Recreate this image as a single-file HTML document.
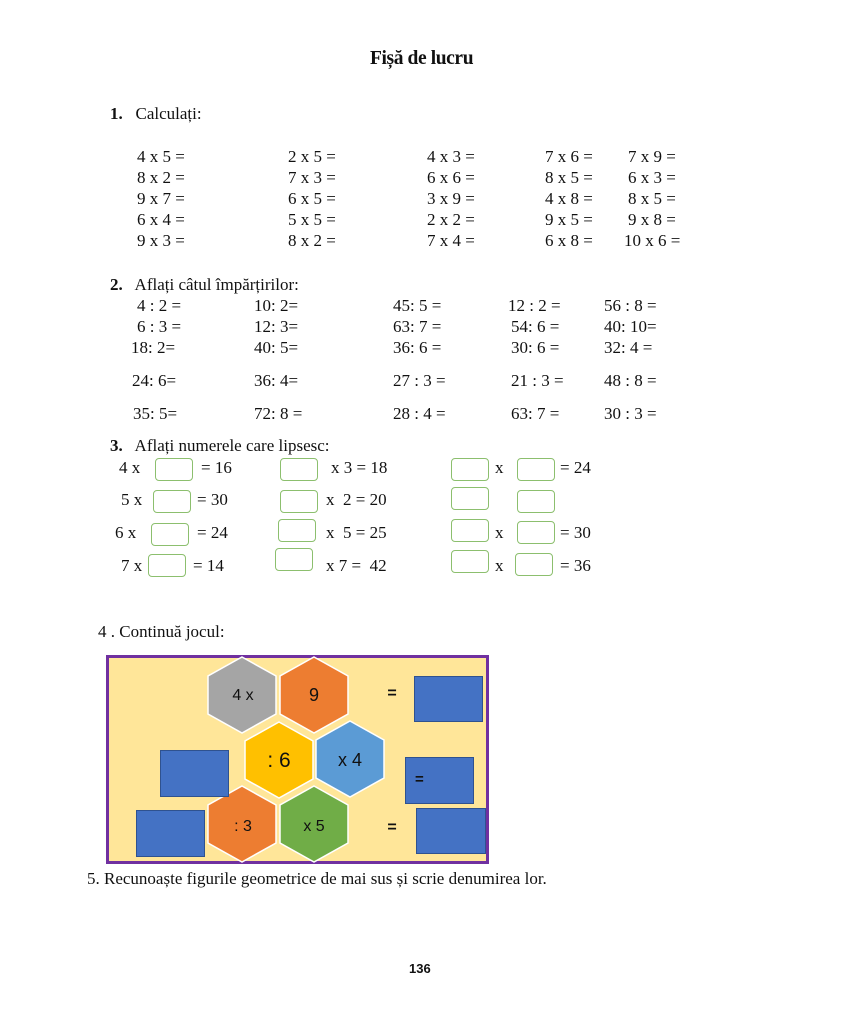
<!DOCTYPE html>
<html><head><meta charset="utf-8"><style>
body{margin:0;width:844px;height:1024px;background:#fff;position:relative;overflow:hidden;font-family:"Liberation Serif",serif;font-size:17px;color:#111}
.t{position:absolute;white-space:nowrap;line-height:20px}
.b{position:absolute;width:36px;height:21px;border:1.5px solid #8cbf6e;border-radius:4px;background:#fff}
.r{position:absolute;background:#4472c4;border:1px solid #2f528f}
.s{font-family:"Liberation Sans","DejaVu Sans",sans-serif}
</style></head><body>
<div class="t" style="left:370px;top:49px;font-size:19.5px;font-weight:bold;letter-spacing:-0.4px">Fișă de lucru</div>
<div class="t" style="left:110px;top:104px"><b>1.</b>&nbsp;&nbsp; Calculați:</div>

<div class="t" style="left:137px;top:147px">4 x 5 =</div><div class="t" style="left:288px;top:147px">2 x 5 =</div><div class="t" style="left:427px;top:147px">4 x 3 =</div><div class="t" style="left:545px;top:147px">7 x 6 =</div><div class="t" style="left:628px;top:147px">7 x 9 =</div>
<div class="t" style="left:137px;top:168px">8 x 2 =</div><div class="t" style="left:288px;top:168px">7 x 3 =</div><div class="t" style="left:427px;top:168px">6 x 6 =</div><div class="t" style="left:545px;top:168px">8 x 5 =</div><div class="t" style="left:628px;top:168px">6 x 3 =</div>
<div class="t" style="left:137px;top:189px">9 x 7 =</div><div class="t" style="left:288px;top:189px">6 x 5 =</div><div class="t" style="left:427px;top:189px">3 x 9 =</div><div class="t" style="left:545px;top:189px">4 x 8 =</div><div class="t" style="left:628px;top:189px">8 x 5 =</div>
<div class="t" style="left:137px;top:210px">6 x 4 =</div><div class="t" style="left:288px;top:210px">5 x 5 =</div><div class="t" style="left:427px;top:210px">2 x 2 =</div><div class="t" style="left:545px;top:210px">9 x 5 =</div><div class="t" style="left:628px;top:210px">9 x 8 =</div>
<div class="t" style="left:137px;top:231px">9 x 3 =</div><div class="t" style="left:288px;top:231px">8 x 2 =</div><div class="t" style="left:427px;top:231px">7 x 4 =</div><div class="t" style="left:545px;top:231px">6 x 8 =</div><div class="t" style="left:624px;top:231px">10 x 6 =</div>

<div class="t" style="left:110px;top:275px"><b>2.</b>&nbsp;&nbsp; Aflați câtul împărțirilor:</div>
<div class="t" style="left:137px;top:296px">4 : 2 =</div><div class="t" style="left:254px;top:296px">10: 2=</div><div class="t" style="left:393px;top:296px">45: 5 =</div><div class="t" style="left:508px;top:296px">12 : 2 =</div><div class="t" style="left:604px;top:296px">56 : 8 =</div>
<div class="t" style="left:137px;top:317px">6 : 3 =</div><div class="t" style="left:254px;top:317px">12: 3=</div><div class="t" style="left:393px;top:317px">63: 7 =</div><div class="t" style="left:511px;top:317px">54: 6 =</div><div class="t" style="left:604px;top:317px">40: 10=</div>
<div class="t" style="left:131px;top:338px">18: 2=</div><div class="t" style="left:254px;top:338px">40: 5=</div><div class="t" style="left:393px;top:338px">36: 6 =</div><div class="t" style="left:511px;top:338px">30: 6 =</div><div class="t" style="left:604px;top:338px">32: 4 =</div>
<div class="t" style="left:132px;top:371px">24: 6=</div><div class="t" style="left:254px;top:371px">36: 4=</div><div class="t" style="left:393px;top:371px">27 : 3 =</div><div class="t" style="left:511px;top:371px">21 : 3 =</div><div class="t" style="left:604px;top:371px">48 : 8 =</div>
<div class="t" style="left:133px;top:404px">35: 5=</div><div class="t" style="left:254px;top:404px">72: 8 =</div><div class="t" style="left:393px;top:404px">28 : 4 =</div><div class="t" style="left:511px;top:404px">63: 7 =</div><div class="t" style="left:604px;top:404px">30 : 3 =</div>

<div class="t" style="left:110px;top:436px"><b>3.</b>&nbsp;&nbsp; Aflați numerele care lipsesc:</div>
<div class="t" style="left:119px;top:458px">4 x</div><div class="b" style="left:155px;top:458px"></div><div class="t" style="left:201px;top:458px">= 16</div>
<div class="b" style="left:280px;top:458px"></div><div class="t" style="left:331px;top:458px">x 3 = 18</div>
<div class="b" style="left:451px;top:458px"></div><div class="t" style="left:495px;top:458px">x</div><div class="b" style="left:517px;top:458px"></div><div class="t" style="left:560px;top:458px">= 24</div>

<div class="t" style="left:121px;top:490px">5 x</div><div class="b" style="left:153px;top:490px"></div><div class="t" style="left:197px;top:490px">= 30</div>
<div class="b" style="left:280px;top:490px"></div><div class="t" style="left:326px;top:490px">x &nbsp;2 = 20</div>
<div class="b" style="left:451px;top:487px"></div><div class="b" style="left:517px;top:490px"></div>

<div class="t" style="left:115px;top:523px">6 x</div><div class="b" style="left:151px;top:523px"></div><div class="t" style="left:197px;top:523px">= 24</div>
<div class="b" style="left:278px;top:519px"></div><div class="t" style="left:326px;top:523px">x &nbsp;5 = 25</div>
<div class="b" style="left:451px;top:519px"></div><div class="t" style="left:495px;top:523px">x</div><div class="b" style="left:517px;top:521px"></div><div class="t" style="left:560px;top:523px">= 30</div>

<div class="t" style="left:121px;top:556px">7 x</div><div class="b" style="left:148px;top:554px"></div><div class="t" style="left:193px;top:556px">= 14</div>
<div class="b" style="left:275px;top:548px"></div><div class="t" style="left:326px;top:556px">x 7 = &nbsp;42</div>
<div class="b" style="left:451px;top:550px"></div><div class="t" style="left:495px;top:556px">x</div><div class="b" style="left:515px;top:553px"></div><div class="t" style="left:560px;top:556px">= 36</div>

<div class="t" style="left:98px;top:622px">4 . Continuă jocul:</div>

<div style="position:absolute;left:106px;top:655px;width:377px;height:203px;border:3px solid #7030a0;background:#ffe699"></div>
<svg style="position:absolute;left:0;top:0" width="844" height="1024" font-family="Liberation Sans, DejaVu Sans, sans-serif">
<g stroke="#fff" stroke-width="1.5">
<polygon points="242,657 276,676 276,714 242,733 208,714 208,676" fill="#a5a5a5"/>
<polygon points="314,657 348,676 348,714 314,733 280,714 280,676" fill="#ed7d31"/>
<polygon points="279,722 313,741 313,779 279,798 245,779 245,741" fill="#ffc000"/>
<polygon points="350,721 384,740 384,778 350,797 316,778 316,740" fill="#5b9bd5"/>
<polygon points="242,786 276,805 276,843 242,862 208,843 208,805" fill="#ed7d31"/>
<polygon points="314,786 348,805 348,843 314,862 280,843 280,805" fill="#70ad47"/>
</g>
<g fill="#111" text-anchor="middle" font-size="16">
<text x="243" y="700">4 x</text>
<text x="314" y="701" font-size="18">9</text>
<text x="279" y="767" font-size="21">: 6</text>
<text x="350" y="766" font-size="18">x 4</text>
<text x="243" y="831">: 3</text>
<text x="314" y="831">x 5</text>
<text x="392" y="698" font-weight="bold">=</text>
<text x="392" y="832" font-weight="bold">=</text>
</g>
</svg>
<div class="r" style="left:414px;top:676px;width:67px;height:44px"></div>
<div class="r" style="left:160px;top:750px;width:67px;height:45px"></div>
<div class="r" style="left:405px;top:757px;width:67px;height:45px"></div>
<div class="t s" style="left:415px;top:770px;font-weight:bold;font-size:15px">=</div>
<div class="r" style="left:136px;top:810px;width:67px;height:45px"></div>
<div class="r" style="left:416px;top:808px;width:68px;height:44px"></div>

<div class="t" style="left:87px;top:869px">5. Recunoaște figurile geometrice de mai sus și scrie denumirea lor.</div>
<div class="t s" style="left:409px;top:959px;font-size:13px;font-weight:bold">136</div>
</body></html>
